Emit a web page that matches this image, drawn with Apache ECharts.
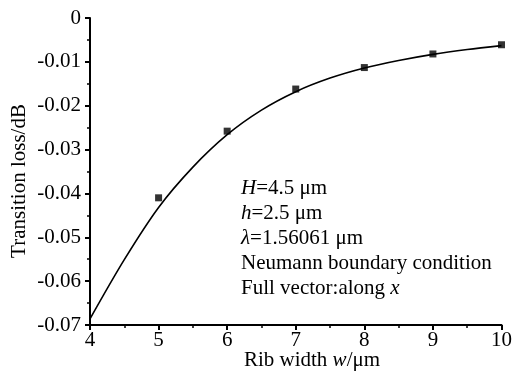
<!DOCTYPE html>
<html>
<head>
<meta charset="utf-8">
<script src="https://cdn.jsdelivr.net/npm/echarts@6/dist/echarts.min.js"></script>
<style>
  html, body { margin: 0; padding: 0; background: #fff; }
  #chart { width: 515px; height: 372px; }
</style>
</head>
<body>
<div id="chart"></div>
<script>
// fitted curve
const curveX = [4, 4.5, 5, 5.5, 6, 6.5, 7, 7.5, 8, 8.5, 9, 9.5, 10];
const curveY = [-0.0686, -0.0551, -0.0432, -0.0340, -0.0266, -0.0210, -0.0168, -0.0137, -0.0114, -0.0097, -0.0083, -0.0072, -0.0063];
// simulated points
const pointX = [5, 6, 7, 8, 9, 10];
const pointY = [-0.0410, -0.0258, -0.0162, -0.0113, -0.0082, -0.0061];

const notes = [
  "{i|H}=4.5 μm",
  "{i|h}=2.5 μm",
  "{i|λ}=1.56061 μm",
  "Neumann boundary condition",
  "Full vector:along {i|x}"
];

const font = "Liberation Serif, Times New Roman, serif";
const fs = 21;
const chart = echarts.init(document.getElementById("chart"));

const axisCommon = {
  axisLine: { show: true, onZero: false, lineStyle: { color: "#000", width: 2 } },
  axisTick: { show: true, length: 5, lineStyle: { color: "#000", width: 2 } },
  minorTick: { show: true, splitNumber: 2, length: 3, lineStyle: { color: "#000", width: 1.5 } },
  splitLine: { show: false },
  axisLabel: { color: "#000", fontFamily: font, fontSize: fs }
};

chart.setOption({
  animation: false,
  grid: { left: 90, right: 9, top: 18, bottom: 47 },
  xAxis: Object.assign({}, axisCommon, {
    type: "value", min: 4, max: 10, interval: 1,
    axisLabel: Object.assign({}, axisCommon.axisLabel, { margin: 5 })
  }),
  yAxis: Object.assign({}, axisCommon, {
    type: "value", min: -0.07, max: 0, interval: 0.01,
    axisLabel: Object.assign({}, axisCommon.axisLabel, {
      margin: 9,
      formatter: v => (Math.abs(v) < 1e-9 ? "0" : v.toFixed(2))
    })
  }),
  graphic: [
    {
      type: "text", x: 19, y: 181, rotation: Math.PI / 2,
      style: { text: "Transition loss/dB", font: fs + "px " + font, fill: "#000", align: "center", verticalAlign: "middle" }
    },
    {
      type: "text", x: 312, y: 360,
      style: {
        text: "Rib width {i|w}/μm", font: fs + "px " + font, fill: "#000", align: "center", verticalAlign: "middle",
        rich: { i: { fontStyle: "italic", fontFamily: font, fontSize: fs } }
      }
    }
  ].concat(notes.map((t, k) => ({
    type: "text", x: 241, y: 188 + k * 25,
    style: {
      text: t, font: fs + "px " + font, fill: "#000", align: "left", verticalAlign: "middle",
      rich: { i: { fontStyle: "italic", fontFamily: font, fontSize: fs } }
    }
  }))),
  series: [
    {
      type: "line",
      data: curveX.map((x, k) => [x, curveY[k]]),
      smooth: 0.3,
      showSymbol: false,
      lineStyle: { color: "#000", width: 1.6 }
    },
    {
      type: "scatter",
      data: pointX.map((x, k) => [x, pointY[k]]),
      symbol: "rect",
      symbolSize: 7,
      itemStyle: { color: "#000" }
    }
  ]
});
</script>
</body>
</html>
